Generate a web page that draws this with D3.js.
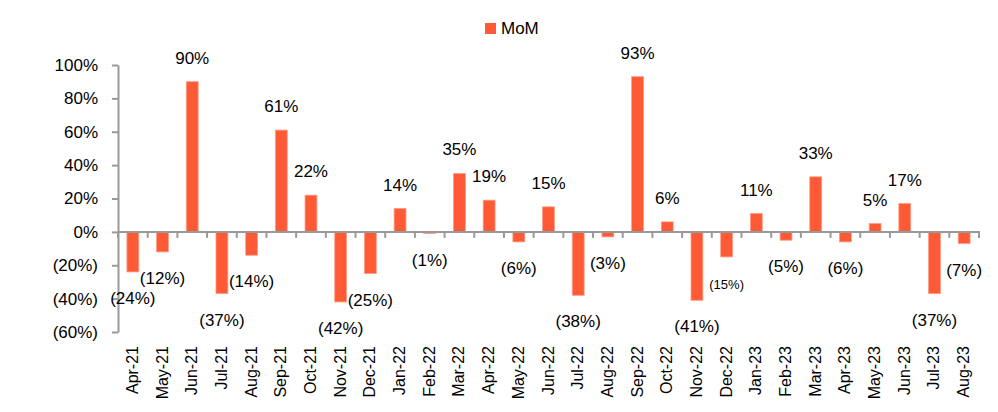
<!DOCTYPE html>
<meta charset="utf-8">
<style>
body { margin: 0; background: #fff; }
svg { font-family: "Liberation Sans", Arial, sans-serif; }
.axis path, .axis line { stroke: #999; stroke-width: 2px; fill: none; }
.axis text { fill: #000; }
</style>
<body>
<script src="https://cdn.jsdelivr.net/npm/d3@7"></script>
<script>
var months = ["Apr-21","May-21","Jun-21","Jul-21","Aug-21","Sep-21","Oct-21","Nov-21","Dec-21",
  "Jan-22","Feb-22","Mar-22","Apr-22","May-22","Jun-22","Jul-22","Aug-22","Sep-22","Oct-22",
  "Nov-22","Dec-22","Jan-23","Feb-23","Mar-23","Apr-23","May-23","Jun-23","Jul-23","Aug-23"];
var mom = [-24,-12,90,-37,-14,61,22,-42,-25,14,-1,35,19,-6,15,-38,-3,93,6,-41,-15,11,-5,33,-6,5,17,-37,-7];
var yTicks = [-60,-40,-20,0,20,40,60,80,100];
var seriesName = "MoM";

var width = 998, height = 412;
var pLeft = 118, pRight = 979, pTop = 65, pBottom = 332;

var svg = d3.select("body").append("svg")
  .attr("width", width).attr("height", height);

var x = d3.scaleBand().domain(months).range([pLeft, pRight]).paddingInner(0.6).paddingOuter(0.3);
var y = d3.scaleLinear().domain([-60, 100]).range([pBottom, pTop]);

function pct(v) { return v < 0 ? "(" + Math.abs(v) + "%)" : v + "%"; }

// y axis
var yAxis = svg.append("g").attr("class", "axis")
  .attr("transform", "translate(" + pLeft + ",0)")
  .call(d3.axisLeft(y).tickValues(yTicks).tickSize(6).tickSizeOuter(0).tickPadding(14).tickFormat(pct));
yAxis.selectAll("text").style("font-size", "17px");

// bars
svg.selectAll(".bar").data(mom).enter().append("rect")
  .attr("class", "bar")
  .attr("x", function(d, i) { return x(months[i]); })
  .attr("width", x.bandwidth())
  .attr("y", function(d) { return d > 0 ? y(d) : y(0); })
  .attr("height", function(d) { return Math.abs(y(d) - y(0)); })
  .attr("fill", "#ff5a36")
  .attr("stroke", "#ff9c85")
  .attr("stroke-width", 0.8);

// x axis at zero, ticks at category boundaries
var step = (pRight - pLeft) / months.length;
var xg = svg.append("g").attr("class", "axis");
xg.append("line").attr("x1", pLeft).attr("x2", pRight + 1).attr("y1", y(0)).attr("y2", y(0));
xg.selectAll(".tk").data(d3.range(months.length + 1)).enter().append("line")
  .attr("x1", function(i) { return pLeft + i * step; })
  .attr("x2", function(i) { return pLeft + i * step; })
  .attr("y1", y(0)).attr("y2", y(0) + 6);

// x labels
svg.selectAll(".xl").data(months).enter().append("text")
  .attr("transform", function(d) { return "translate(" + (x(d) + x.bandwidth() / 2 + 5) + ",346) rotate(-90)"; })
  .attr("text-anchor", "end")
  .style("font-size", "16px")
  .text(function(d) { return d; });

// value labels
svg.selectAll(".vl").data(mom).enter().append("text")
  .attr("x", function(d, i) { return x(months[i]) + x.bandwidth() / 2; })
  .attr("y", function(d) { return d > 0 ? y(d) - 18 : y(d) + 32; })
  .attr("text-anchor", "middle")
  .style("font-size", function(d, i) { return months[i] === "Dec-22" ? "13px" : "17px"; })
  .text(pct);

// legend
var lg = svg.append("g").attr("transform", "translate(485,23)");
lg.append("rect").attr("width", 11).attr("height", 11).attr("fill", "#ff5a36");
lg.append("text").attr("x", 16).attr("y", 11).style("font-size", "17px").text(seriesName);
</script>
</body>
